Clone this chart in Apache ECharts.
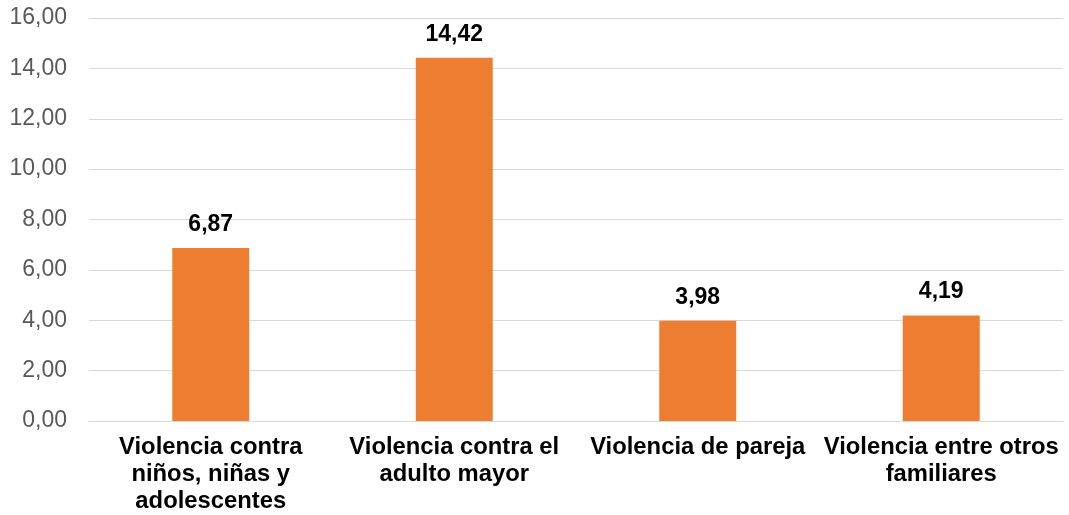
<!DOCTYPE html>
<html>
<head>
<meta charset="utf-8">
<script src="https://cdn.jsdelivr.net/npm/echarts@6/dist/echarts.min.js"></script>
<style>
html,body{margin:0;padding:0;background:#fff;}
#chart{width:1069px;height:515px;}
</style>
</head>
<body>
<div id="chart"></div>
<script>
var categories = [
  "Violencia contra\nniños, niñas y\nadolescentes",
  "Violencia contra el\nadulto mayor",
  "Violencia de pareja",
  "Violencia entre otros\nfamiliares"
];
var values = [6.87, 14.42, 3.98, 4.19];
var yMin = 0, yMax = 16, yInterval = 2;

function fmt(v){ return v.toFixed(2).replace('.', ','); }

var chart = echarts.init(document.getElementById('chart'));
chart.setOption({
  animation: false,
  backgroundColor: '#ffffff',
  grid: { left: 89, right: 6, top: 18, bottom: 94, containLabel: false },
  xAxis: {
    type: 'category',
    data: categories,
    axisLine: { show: true, lineStyle: { color: '#d9d9d9', width: 1 } },
    axisTick: { show: false },
    axisLabel: {
      interval: 0,
      margin: 13,
      color: '#000000',
      fontFamily: 'Liberation Sans, Arial, sans-serif',
      fontSize: 23.8,
      fontWeight: 'bold',
      lineHeight: 27
    }
  },
  yAxis: {
    type: 'value',
    min: yMin, max: yMax, interval: yInterval,
    axisLine: { show: false },
    axisTick: { show: false },
    splitLine: { lineStyle: { color: '#d9d9d9', width: 1 } },
    axisLabel: {
      margin: 22,
      color: '#595959',
      fontFamily: 'Liberation Sans, Arial, sans-serif',
      fontSize: 23,
      formatter: function(v){ return fmt(v); }
    }
  },
  series: [{
    type: 'bar',
    data: values,
    barWidth: '31.6%',
    itemStyle: { color: '#ED7D31' },
    label: {
      show: true,
      position: 'top',
      distance: 12,
      color: '#000000',
      fontFamily: 'Liberation Sans, Arial, sans-serif',
      fontSize: 23,
      fontWeight: 'bold',
      formatter: function(p){ return fmt(p.value); }
    }
  }]
});
</script>
</body>
</html>
